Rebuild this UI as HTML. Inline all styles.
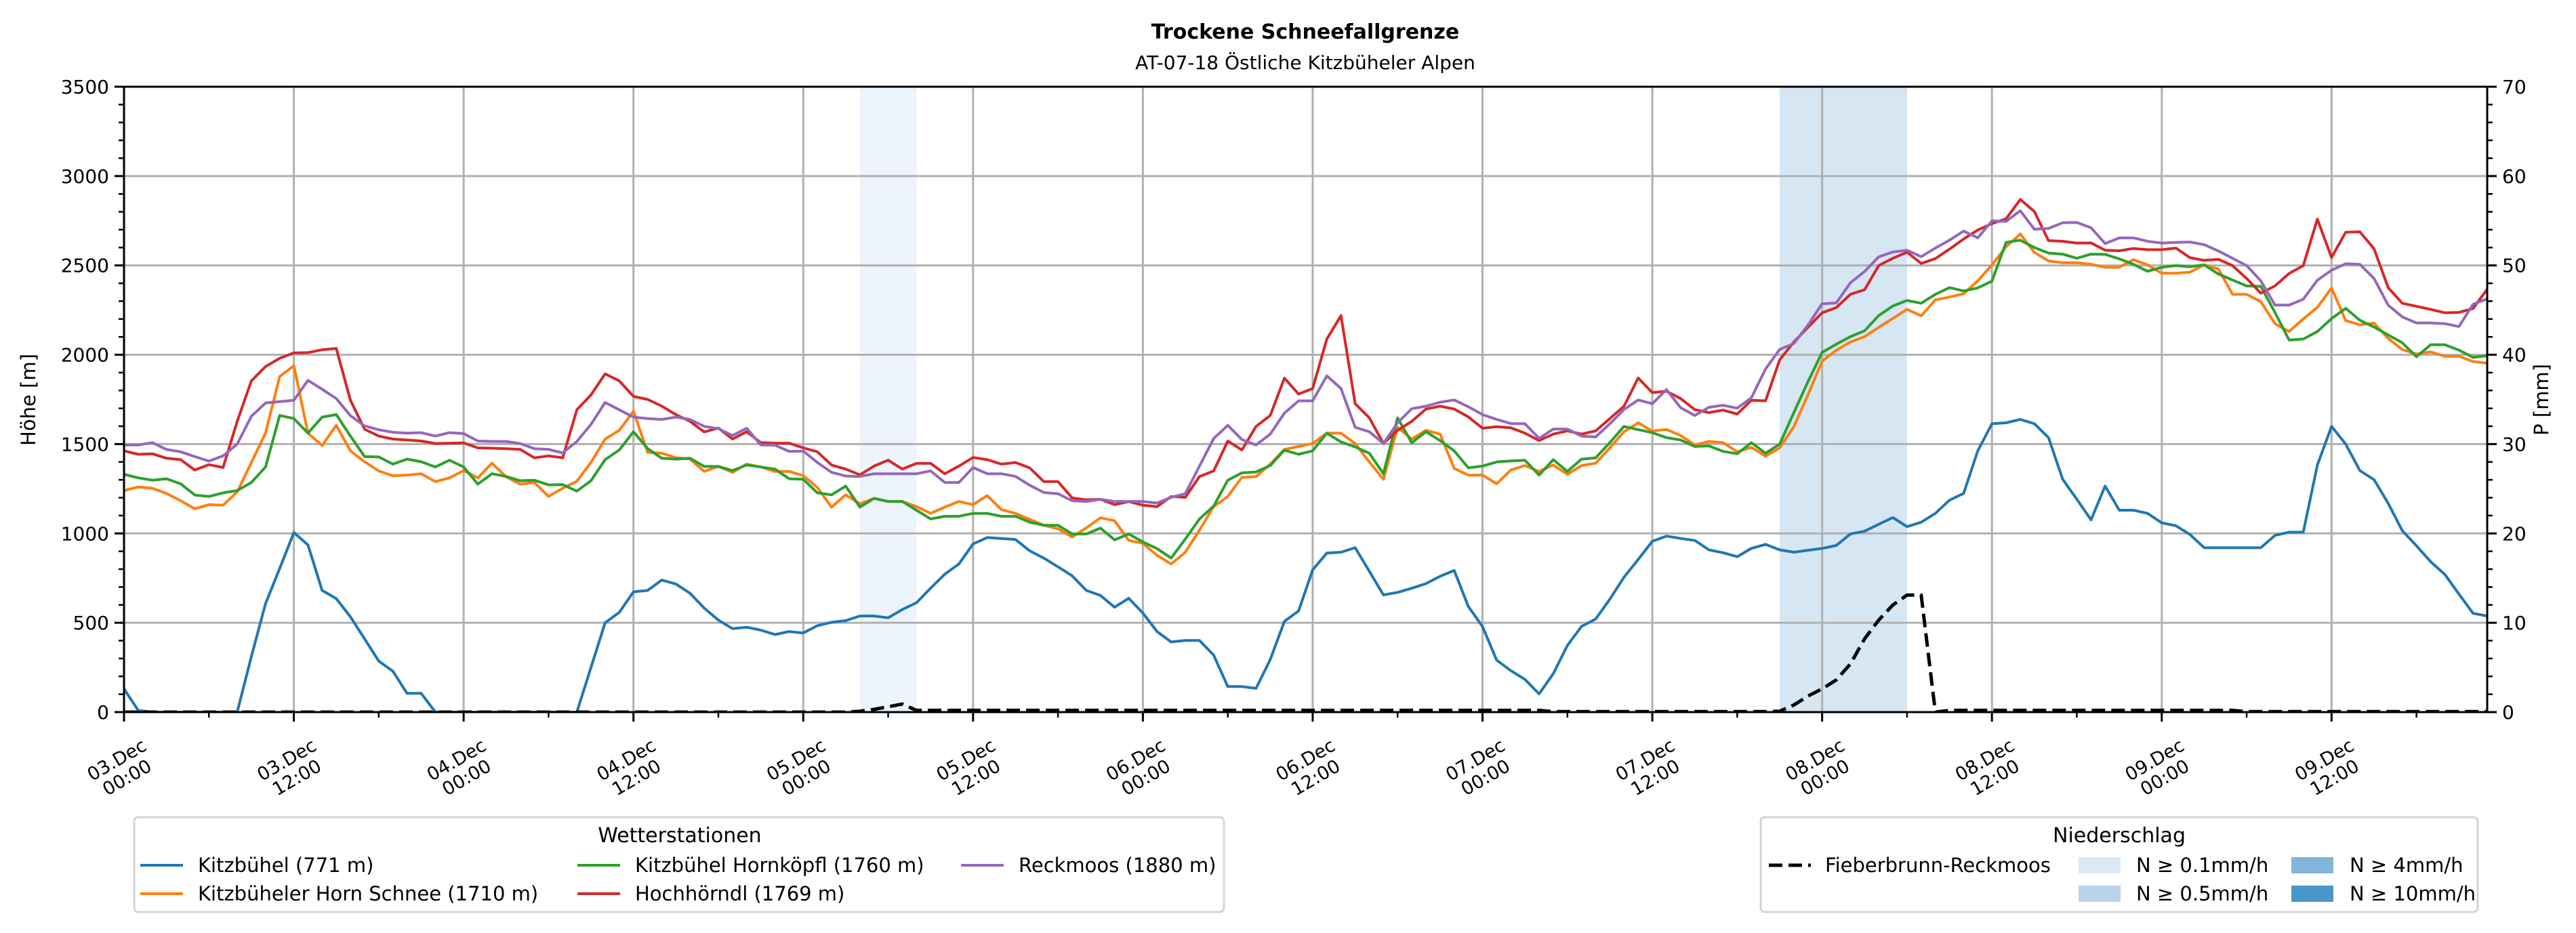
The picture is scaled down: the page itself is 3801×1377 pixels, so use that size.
<!DOCTYPE html>
<html><head><meta charset="utf-8"><title>Trockene Schneefallgrenze</title>
<style>
html,body{margin:0;padding:0;background:#fff;}
svg{display:block;font-family:"DejaVu Sans","Liberation Sans",sans-serif;}
</style></head>
<body>
<svg id="chart" width="3801" height="1377" viewBox="0 0 3801 1377" xmlns="http://www.w3.org/2000/svg">
<defs><clipPath id="plotclip"><rect x="183" y="128" width="3487" height="923"/></clipPath></defs>
<rect x="0" y="0" width="3801" height="1377" fill="#fff"/>
<text x="1926" y="57" text-anchor="middle" font-size="30" font-weight="bold">Trockene Schneefallgrenze</text>
<text x="1926" y="102" text-anchor="middle" font-size="28">AT-07-18 Östliche Kitzbüheler Alpen</text>
<g id="spans" clip-path="url(#plotclip)"></g>
<g id="grid"></g>
<g id="series" clip-path="url(#plotclip)"></g>
<g id="axes"></g>
<text transform="translate(52,590) rotate(-90)" text-anchor="middle" font-size="29">Höhe [m]</text>
<text transform="translate(3760,590) rotate(-90)" text-anchor="middle" font-size="29">P [mm]</text>

<g>
<rect x="198" y="1206" width="1608" height="140" rx="6" fill="#fff" stroke="#d4d4d4" stroke-width="3"/>
<text x="1003" y="1243" text-anchor="middle" font-size="30">Wetterstationen</text>
<g><line x1="207" y1="1277" x2="270" y2="1277" stroke="#1f77b4" stroke-width="4"/><text x="292" y="1287" font-size="29">Kitzbühel (771 m)</text></g>
<g><line x1="207" y1="1319" x2="270" y2="1319" stroke="#ff7f0e" stroke-width="4"/><text x="292" y="1329" font-size="29">Kitzbüheler Horn Schnee (1710 m)</text></g>
<g><line x1="852" y1="1277" x2="915" y2="1277" stroke="#2ca02c" stroke-width="4"/><text x="937" y="1287" font-size="29">Kitzbühel Hornköpfl (1760 m)</text></g>
<g><line x1="852" y1="1319" x2="915" y2="1319" stroke="#d62728" stroke-width="4"/><text x="937" y="1329" font-size="29">Hochhörndl (1769 m)</text></g>
<g><line x1="1418" y1="1277" x2="1481" y2="1277" stroke="#9467bd" stroke-width="4"/><text x="1503" y="1287" font-size="29">Reckmoos (1880 m)</text></g>
</g>

<g>
<rect x="2598" y="1206" width="1058" height="140" rx="6" fill="#fff" stroke="#d4d4d4" stroke-width="3"/>
<text x="3127" y="1243" text-anchor="middle" font-size="30">Niederschlag</text>
<g><line x1="2610" y1="1277" x2="2672" y2="1277" stroke="#000" stroke-width="5" stroke-dasharray="20,9"/><text x="2693" y="1287" font-size="29">Fieberbrunn-Reckmoos</text></g>
<g><rect x="3067" y="1265" width="62" height="24" fill="#dce9f5"/><text x="3152" y="1287" font-size="29">N ≥ 0.1mm/h</text></g>
<g><rect x="3067" y="1307" width="62" height="24" fill="#b9d4ea"/><text x="3152" y="1329" font-size="29">N ≥ 0.5mm/h</text></g>
<g><rect x="3381" y="1265" width="62" height="24" fill="#7fb6da"/><text x="3467" y="1287" font-size="29">N ≥ 4mm/h</text></g>
<g><rect x="3381" y="1307" width="62" height="24" fill="#4a96c9"/><text x="3467" y="1329" font-size="29">N ≥ 10mm/h</text></g>
</g>
</svg>
<script>
// ---- data (hourly from 03.Dec 00:00) ----
const hoursMax = 167;
const xTickLabels = ["03.Dec|00:00","03.Dec|12:00","04.Dec|00:00","04.Dec|12:00","05.Dec|00:00","05.Dec|12:00","06.Dec|00:00","06.Dec|12:00","07.Dec|00:00","07.Dec|12:00","08.Dec|00:00","08.Dec|12:00","09.Dec|00:00","09.Dec|12:00"];
const yTicksLeft = [0,500,1000,1500,2000,2500,3000,3500];
const yTicksRight = [0,10,20,30,40,50,60,70];
const shadeStarts = [52,117];
const shadeEnds = [56,126];
const shadeColors = ["#eef4fb","#d6e6f3"];
const kitzbuehel = [130,10,0,0,0,0,0,0,0,311,607,804,1005,936,681,635,533,410,286,229,105,105,0,0,0,0,0,0,0,0,0,0,0,250,500,558,673,681,739,717,665,582,515,467,475,459,434,451,443,484,503,512,538,538,528,574,612,694,772,829,941,977,972,966,903,862,813,763,681,653,587,637,554,451,393,401,401,319,143,143,133,294,508,566,796,890,895,920,788,656,670,693,719,760,793,591,479,291,232,183,102,215,373,480,521,632,755,854,956,985,972,961,908,892,870,916,939,908,895,906,916,933,997,1013,1051,1089,1038,1063,1112,1186,1224,1462,1614,1619,1638,1614,1536,1303,1191,1076,1265,1130,1130,1112,1059,1043,994,920,920,920,920,920,989,1007,1007,1383,1599,1500,1352,1301,1169,1015,931,842,771,661,553,538];
const hornSchnee = [1240,1260,1253,1224,1183,1138,1161,1158,1232,1397,1561,1878,1939,1561,1492,1605,1462,1401,1350,1323,1327,1334,1290,1311,1352,1311,1393,1317,1276,1285,1207,1253,1292,1397,1528,1577,1684,1454,1449,1424,1416,1347,1375,1342,1388,1372,1347,1347,1323,1257,1147,1216,1166,1196,1179,1179,1150,1112,1147,1179,1161,1212,1133,1112,1079,1046,1026,980,1031,1087,1071,961,944,878,829,895,1018,1150,1207,1314,1318,1388,1470,1487,1503,1561,1561,1503,1400,1303,1594,1528,1577,1556,1364,1326,1327,1278,1355,1380,1347,1383,1331,1380,1393,1479,1569,1619,1573,1582,1548,1495,1515,1508,1457,1482,1433,1479,1597,1775,1964,2025,2071,2101,2153,2203,2254,2218,2307,2323,2341,2414,2503,2604,2676,2572,2525,2515,2515,2506,2490,2490,2532,2503,2456,2456,2462,2503,2480,2338,2338,2297,2174,2130,2200,2265,2374,2191,2168,2177,2092,2029,2004,2016,1991,1991,1962,1953];
const hornkoepfl = [1331,1311,1298,1306,1278,1215,1207,1227,1240,1285,1372,1660,1643,1561,1651,1665,1545,1430,1428,1388,1416,1401,1372,1410,1372,1276,1334,1319,1295,1298,1272,1273,1237,1295,1413,1467,1569,1475,1421,1416,1421,1375,1375,1352,1383,1372,1360,1306,1303,1227,1216,1265,1147,1196,1179,1179,1130,1081,1096,1096,1112,1112,1096,1096,1063,1046,1046,997,997,1030,964,997,952,915,862,969,1081,1153,1298,1339,1344,1380,1466,1443,1462,1561,1512,1484,1449,1334,1647,1507,1569,1520,1462,1367,1377,1400,1406,1410,1327,1413,1347,1416,1423,1508,1599,1581,1564,1536,1523,1487,1490,1459,1446,1508,1449,1500,1676,1849,2013,2059,2101,2134,2219,2273,2304,2288,2338,2376,2357,2374,2412,2629,2641,2600,2569,2563,2540,2563,2562,2537,2506,2467,2490,2499,2492,2503,2452,2418,2385,2383,2237,2082,2088,2130,2202,2260,2193,2155,2111,2067,1989,2056,2056,2026,1985,1995];
const hochhoerndl = [1462,1443,1446,1421,1413,1355,1385,1369,1627,1854,1934,1980,2010,2012,2028,2035,1745,1583,1545,1528,1523,1517,1503,1505,1507,1479,1477,1474,1470,1423,1434,1423,1692,1775,1893,1854,1767,1750,1713,1665,1627,1568,1590,1528,1569,1508,1505,1505,1479,1457,1383,1360,1328,1377,1410,1360,1392,1392,1334,1377,1425,1413,1388,1397,1367,1290,1290,1199,1188,1191,1161,1178,1158,1150,1207,1202,1318,1350,1517,1467,1599,1660,1869,1780,1811,2088,2219,1726,1647,1503,1577,1627,1696,1712,1696,1652,1589,1597,1591,1561,1520,1556,1574,1556,1574,1643,1712,1870,1788,1796,1755,1693,1676,1690,1668,1745,1742,1972,2071,2153,2235,2264,2338,2364,2499,2540,2574,2511,2538,2591,2648,2698,2734,2761,2869,2802,2639,2635,2625,2626,2585,2582,2595,2588,2588,2597,2543,2528,2534,2499,2427,2345,2385,2455,2499,2759,2544,2686,2688,2593,2376,2288,2271,2254,2235,2237,2259,2367];
const reckmoos = [1495,1495,1508,1470,1457,1430,1405,1434,1500,1656,1730,1738,1745,1857,1807,1755,1659,1602,1580,1566,1561,1564,1545,1564,1559,1517,1515,1515,1503,1474,1470,1451,1515,1610,1733,1692,1651,1643,1638,1651,1638,1599,1586,1548,1589,1495,1494,1459,1461,1397,1342,1321,1319,1334,1334,1334,1334,1350,1285,1285,1369,1334,1334,1319,1270,1229,1222,1183,1178,1191,1179,1179,1179,1170,1202,1222,1377,1531,1605,1525,1495,1556,1673,1742,1742,1882,1811,1594,1569,1503,1619,1698,1712,1734,1747,1709,1665,1638,1615,1614,1532,1584,1584,1545,1540,1614,1693,1747,1726,1805,1704,1660,1706,1717,1701,1759,1920,2030,2063,2166,2285,2290,2403,2466,2548,2575,2585,2549,2597,2641,2692,2654,2749,2746,2806,2702,2707,2739,2740,2711,2622,2654,2654,2635,2625,2629,2631,2616,2581,2540,2499,2414,2278,2278,2311,2417,2473,2509,2506,2427,2278,2212,2178,2178,2174,2158,2282,2313];
const precipFieberbrunn = [0,0,0,0,0,0,0,0,0,0,0,0,0,0,0,0,0,0,0,0,0,0,0,0,0,0,0,0,0,0,0,0,0,0,0,0,0,0,0,0,0,0,0,0,0,0,0,0,0,0,0,0,0.1,0.3,0.6,0.9,0.2,0.2,0.2,0.2,0.2,0.2,0.2,0.2,0.2,0.2,0.2,0.2,0.2,0.2,0.2,0.2,0.2,0.2,0.2,0.2,0.2,0.2,0.2,0.2,0.2,0.2,0.2,0.2,0.2,0.2,0.2,0.2,0.2,0.2,0.2,0.2,0.2,0.2,0.2,0.2,0.2,0.2,0.2,0.2,0.2,0.05,0.05,0.05,0.05,0.05,0.05,0.05,0.05,0.05,0.05,0.05,0.05,0.05,0.05,0.05,0.05,0.1,0.8,1.8,2.6,3.6,5.4,8.2,10.3,12.0,13.1,13.1,0,0.2,0.2,0.2,0.2,0.2,0.2,0.2,0.2,0.2,0.2,0.2,0.2,0.2,0.2,0.2,0.2,0.2,0.2,0.2,0.2,0.2,0.05,0.05,0.05,0.05,0.05,0.05,0.05,0.05,0.05,0.05,0.05,0.05,0.05,0.05,0.05,0.05,0.05,0.05];

// ---- axes ----
const PL=183, PR=3670, PT=128, PB=1051;
const yLeftMax = 3500, yRightMax = 70;
function x(h){ return PL + h*(PR-PL)/hoursMax; }
function yL(m){ return PB - m*(PB-PT)/yLeftMax; }
function yR(p){ return PB - p*(PB-PT)/yRightMax; }
const NS="http://www.w3.org/2000/svg";
function mk(tag, attrs, parent){ const e=document.createElementNS(NS,tag); for(const k in attrs) e.setAttribute(k,attrs[k]); parent.appendChild(e); return e; }

const spans=document.getElementById('spans');
for(let i=0;i<shadeStarts.length;i++){
  const r=mk('rect',{x:x(shadeStarts[i]),y:PT,width:x(shadeEnds[i])-x(shadeStarts[i]),height:PB-PT,fill:shadeColors[i]},spans);
  
  
}
const grid=document.getElementById('grid');
for(let i=0;i<xTickLabels.length;i++){
  const gx=x(i*12);
  const l=mk('line',{x1:gx,x2:gx,y1:PT,y2:PB,stroke:'#b0b0b0','stroke-width':3},grid);
  
  
}
for(const t of yTicksLeft){
  const l=mk('line',{x1:PL,x2:PR,y1:yL(t),y2:yL(t),stroke:'#b0b0b0','stroke-width':3},grid);
  
  
}
const series=document.getElementById('series');
function drawLine(vals,color,name,scale,dash){
  let d='';
  vals.forEach((v,i)=>{ d+=(i?'L':'M')+x(i).toFixed(1)+','+scale(v).toFixed(1); });
  const p=mk('path',{d:d,fill:'none',stroke:color,'stroke-width':dash?5:4,'stroke-linejoin':'round'},series);
  if(dash) p.setAttribute('stroke-dasharray','20,9');
  
  
}
drawLine(kitzbuehel,'#1f77b4','line-kitzbuehel',yL);
drawLine(hornSchnee,'#ff7f0e','line-horn-schnee',yL);
drawLine(hornkoepfl,'#2ca02c','line-hornkoepfl',yL);
drawLine(hochhoerndl,'#d62728','line-hochhoerndl',yL);
drawLine(reckmoos,'#9467bd','line-reckmoos',yL);
drawLine(precipFieberbrunn,'#000','line-precip-fieberbrunn',yR,true);

const axes=document.getElementById('axes');
const frame=mk('rect',{x:PL,y:PT,width:PR-PL,height:PB-PT,fill:'none',stroke:'#000','stroke-width':3},axes);


for(let m=0;m<=yLeftMax;m+=100){
  const major = m%500===0;
  mk('line',{x1:PL-(major?14:8),x2:PL,y1:yL(m),y2:yL(m),stroke:'#000','stroke-width':major?3:2.5},axes);
}
for(const t of yTicksLeft){
  const tx=mk('text',{x:PL-22,y:yL(t)+10,'text-anchor':'end','font-size':28},axes);
  tx.textContent=t;
  
  
}
for(let p=0;p<=yRightMax;p+=2){
  const major = p%10===0;
  mk('line',{x1:PR,x2:PR+(major?14:8),y1:yR(p),y2:yR(p),stroke:'#000','stroke-width':major?3:2.5},axes);
}
for(const t of yTicksRight){
  const tx=mk('text',{x:PR+22,y:yR(t)+10,'text-anchor':'start','font-size':28},axes);
  tx.textContent=t;
  
  
}
for(let h=0;h<=hoursMax;h+=6){
  const major=h%12===0;
  mk('line',{x1:x(h),x2:x(h),y1:PB,y2:PB+(major?14:8),stroke:'#000','stroke-width':major?3:2.5},axes);
}
xTickLabels.forEach((lab,i)=>{
  const parts=lab.split('|');
  const g=mk('g',{transform:'translate('+(x(i*12)-4).toFixed(1)+',1133) rotate(-30)'},axes);
  
  
  const t1=mk('text',{x:0,y:-4,'text-anchor':'middle','font-size':27},g); t1.textContent=parts[0];
  const t2=mk('text',{x:0,y:26,'text-anchor':'middle','font-size':27},g); t2.textContent=parts[1];
});
</script>
</body></html>
